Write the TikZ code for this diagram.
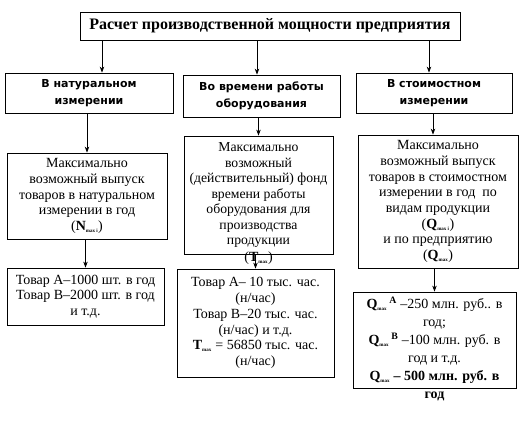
\documentclass[tikz,border=0pt]{standalone}
\usepackage{fontspec}
\setmainfont{Liberation Serif}
\newfontfamily\cabecalho{DejaVu Sans}
\usetikzlibrary{arrows.meta}

\begin{document}
\begin{tikzpicture}[
      x=1pt, y=-1pt,
      every node/.style={draw, align=center, inner sep=1pt, line width=0.8pt,
        font=\fontsize{14}{15.7}\selectfont},
      every label/.style={draw=none},
      titulo/.style={minimum width=380pt, minimum height=28pt,
        font=\fontsize{16}{18}\selectfont\bfseries},
      ramo/.style={font=\fontsize{11}{17}\cabecalho\bfseries},
      seta/.style={-{Stealth[length=6pt,width=4.5pt]}, line width=0.8pt}
    ]
    \useasboundingbox (0,0) rectangle (528,421);
    % Заголовок
    \node[titulo] (raschet) at (270,26) {Расчет производственной мощности предприятия};
    % Три направления
    \node[ramo, minimum width=168pt, minimum height=40pt] (natur) at (89,93)
      {В натуральном\\измерении};
    \node[ramo, minimum width=157pt, minimum height=42pt] (vremya) at (261.5,96)
      {Во времени работы\\оборудования};
    \node[ramo, minimum width=156pt, minimum height=40pt] (stoim) at (434,93)
      {В стоимостном\\измерении};
    % Максимальные величины
    \node[minimum width=160pt, minimum height=86pt] (naturmax) at (87,196)
      {Максимально\\возможный выпуск\\товаров в натуральном\\измерении в год\\
       (\textbf{N}\textsubscript{\tiny\bfseries max i})};
    \node[minimum width=149pt, minimum height=118pt,
      font=\fontsize{13.7}{15.5}\selectfont,
      label={[label distance=-4pt]below:(\textbf{T}\textsubscript{\tiny\bfseries max})}]
      (vremyamax) at (258.5,195)
      {Максимально\\возможный\\(действительный) фонд\\времени работы\\оборудования для\\производства\\продукции};
    \node[minimum width=160pt, minimum height=133pt] (stoimmax) at (438,201.5)
      {Максимально\\возможный выпуск\\товаров в стоимостном\\измерении в год~ по\\видам продукции\\
       (\textbf{Q}\textsubscript{\tiny\bfseries max i})\\и по предприятию\\
       (\textbf{Q}\textsubscript{\tiny\bfseries max})};
    % Примеры
    \node[minimum width=157pt, minimum height=57pt] (naturpr) at (85.5,296.5)
      {Товар А–1000 шт. в год\\Товар В–2000 шт. в год\\и т.д.};
    \node[minimum width=157pt, minimum height=108pt] (vremyapr) at (255.5,323)
      {Товар А– 10 тыс. час.\\(н/час)\\Товар В–20 тыс. час.\\(н/час) и т.д.\\
       \textbf{T}\textsubscript{\tiny\bfseries max} = 56850 тыс. час.\\(н/час)};
    \node[minimum width=163pt, minimum height=96pt,
      font=\fontsize{14}{18}\selectfont,
      label={[label distance=2pt]below:\textbf{год}}]
      (stoimpr) at (434.5,340)
      {\textbf{Q}\textsubscript{\tiny\bfseries max}\,\textsuperscript{\bfseries А} –250 млн. руб.. в\\год;\\
       \textbf{Q}\textsubscript{\tiny\bfseries max}\,\textsuperscript{\bfseries В} –100 млн. руб. в\\год и т.д.\\
       \textbf{Q}\textsubscript{\tiny\bfseries max} \textbf{– 500 млн. руб. в}};

    \draw[seta] ([xshift=13pt]natur.north |- raschet.south) -- ([xshift=13pt]natur.north);
    \draw[seta] ([xshift=-4.5pt]vremya.north |- raschet.south) -- ([xshift=-4.5pt]vremya.north);
    \draw[seta] ([xshift=-5pt]stoim.north |- raschet.south) -- ([xshift=-5pt]stoim.north);
    \draw[seta] (naturmax.north |- natur.south) -- (naturmax.north);
    \draw[seta] (vremyamax.north |- vremya.south) -- (vremyamax.north);
    \draw[seta] ([xshift=-5pt]stoimmax.north |- stoim.south) -- ([xshift=-5pt]stoimmax.north);
    \draw[seta] (naturpr.north |- naturmax.south) -- (naturpr.north);
    \draw[seta] (vremyapr.north |- vremyamax.south) -- (vremyapr.north);
    \draw[seta] (stoimpr.north |- stoimmax.south) -- (stoimpr.north);
  \end{tikzpicture}
\end{document}
